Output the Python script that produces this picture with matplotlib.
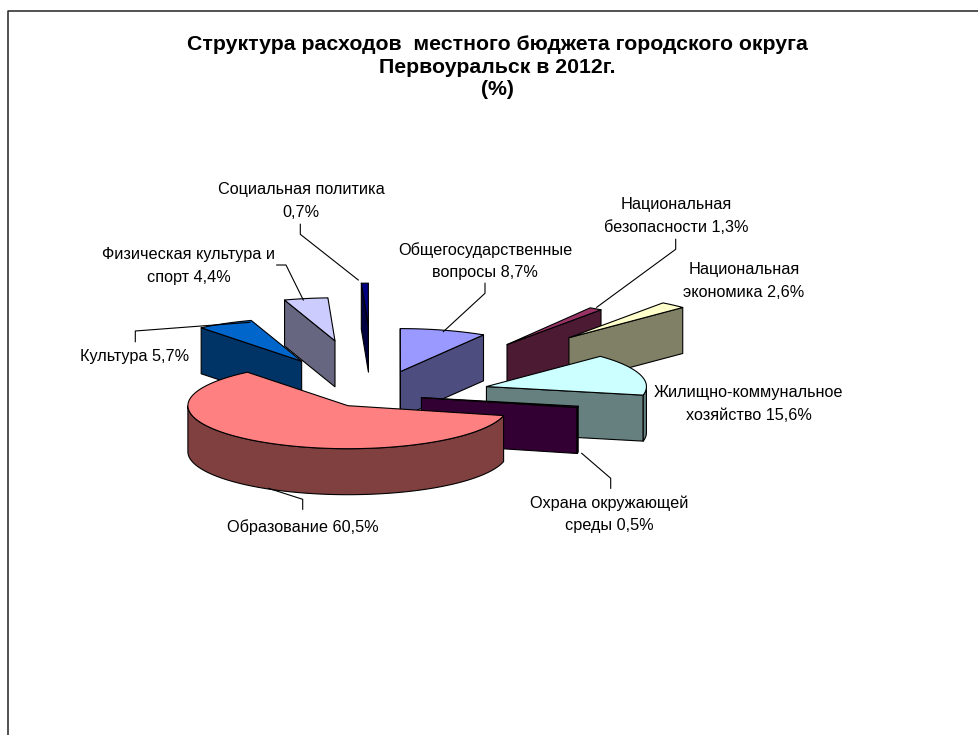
import numpy as np
import matplotlib
matplotlib.use('Agg')
import matplotlib.pyplot as plt
from matplotlib.patches import Polygon

plt.rcParams['font.family'] = ['Liberation Sans', 'DejaVu Sans']

# clockwise on screen, starting just below east
names = ['Образование', 'Культура', 'Физическая культура', 'Социальная политика',
         'Общегосударственные вопросы', 'Национальная безопасности',
         'Национальная экономика', 'Жилищно-коммунальное хозяйство',
         'Охрана окружающей среды']
values = [60.5, 5.7, 4.4, 0.7, 8.7, 1.3, 2.6, 15.6, 0.5]
explode = [0.312, 0.95, 1.36, 1.7, 0.6, 1.495, 1.865, 0.73, 0.30]
top_colors = ['#FF8080', '#0066CC', '#CCCCFF', '#000080', '#9999FF',
              '#993366', '#FFFFCC', '#CCFFFF', '#660066']
side_colors = ['#804040', '#003366', '#666680', '#000040', '#4D4D80',
               '#4D1A33', '#808066', '#668080', '#330033']

title_lines = ['Структура расходов  местного бюджета городского округа',
               'Первоуральск в 2012г.', '(%)']

# text, x, y
labels = [('Социальная политика\n0,7%', 301, 201),
          ('Физическая культура и\nспорт 4,4%', 189, 266),
          ('Культура 5,7%', 135, 356),
          ('Общегосударственные\nвопросы 8,7%', 485, 261),
          ('Национальная\nбезопасности 1,3%', 676, 216),
          ('Национальная\nэкономика 2,6%', 744, 281),
          ('Жилищно-коммунальное\nхозяйство 15,6%', 749, 404),
          ('Охрана окружающей\nсреды 0,5%', 609, 514),
          ('Образование 60,5%', 303, 527)]

leaders = [[(300.3, 224.3), (300.3, 234.3), (358.3, 280)],
           [(276.7, 265), (286, 265), (303.3, 300)],
           [(135.3, 341.7), (135.3, 331), (250, 322.3)],
           [(485, 283.3), (485, 293.3), (443.3, 331.7)],
           [(675.7, 239.3), (675.7, 249.3), (596.7, 307.3)],
           [(610.7, 488.3), (610.7, 478.3), (581.7, 453.3)],
           [(302.7, 509.3), (302.7, 499.3), (268.3, 488.3)]]

CX, CY = 374.5, 395
A, B = 160, 43
B_EXPLODE = 40.5
H = 46
START = 13.3
# back slices first, education last
draw_order = [3, 2, 4, 5, 6, 1, 7, 8, 0]

fig = plt.figure(figsize=(9.79, 7.35), dpi=100)
ax = fig.add_axes([0, 0, 1, 1])
ax.set_xlim(0, 979)
ax.set_ylim(735, 0)
ax.axis('off')

spans = np.array(values) / sum(values) * 360
ends = START + np.cumsum(spans)
starts = ends - spans


def pt(deg, b=B):
    t = np.radians(deg)
    return np.array([A * np.cos(t), b * np.sin(t)])


def face(points, color):
    ax.add_patch(Polygon(points, closed=True, facecolor=color, edgecolor='black',
                         linewidth=0.8, joinstyle='round'))


for i in draw_order:
    t1, t2 = starts[i], ends[i]
    apex = np.array([CX, CY]) + explode[i] * pt((t1 + t2) / 2, B_EXPLODE)
    drop = np.array([0, H])
    angs = np.linspace(t1, t2, 200)
    arc = np.array([apex + pt(a) for a in angs])

    # cut faces, only those turned to the viewer
    if np.cos(np.radians(t1)) < 0:
        tip = apex + pt(t1)
        face([apex, tip, tip + drop, apex + drop], side_colors[i])
    if np.cos(np.radians(t2)) > 0:
        tip = apex + pt(t2)
        face([apex, tip, tip + drop, apex + drop], side_colors[i])

    # rim
    front = np.sin(np.radians(angs)) > 0
    if front.any():
        rim = arc[front]
        face(np.vstack([rim, rim[::-1] + drop]), side_colors[i])

    face(np.vstack([apex, arc]), top_colors[i])

for line in leaders:
    xs, ys = zip(*line)
    ax.plot(xs, ys, color='black', lw=0.8)

for (text, x, y) in labels:
    ax.text(x, y, text, ha='center', va='center', fontsize=11.7,
            color='black', linespacing=1.6)

for line, y in zip(title_lines, [44, 67, 89]):
    ax.text(497, y, line, ha='center', va='center', fontsize=15.3,
            fontweight='bold', color='black')

# chart frame, cut off on the right and at the bottom
ax.plot([8, 8, 979], [735, 11, 11], color='#222222', lw=1.1)

fig.savefig('out.png', dpi=100)
